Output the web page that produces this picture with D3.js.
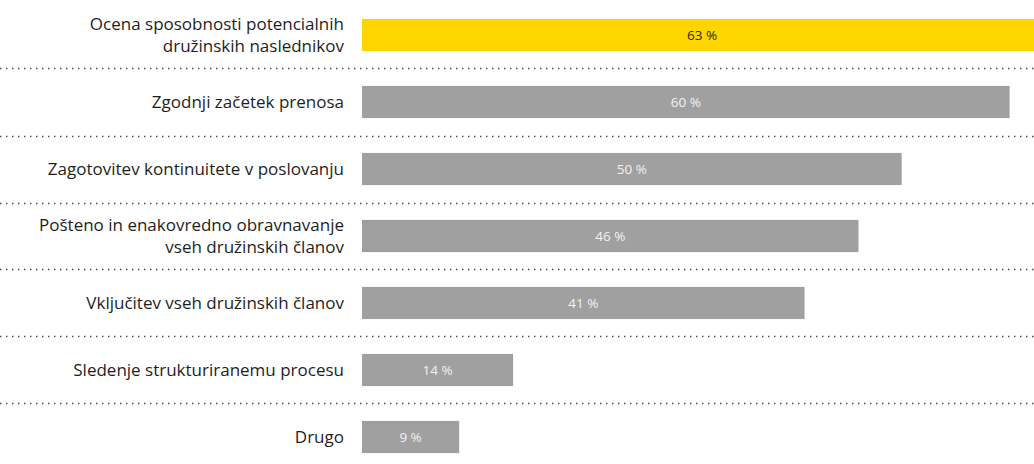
<!DOCTYPE html>
<html>
<head>
<meta charset="utf-8">
<script src="https://cdn.jsdelivr.net/npm/d3@7/dist/d3.min.js"></script>
<style>
  html, body { margin: 0; padding: 0; background: #fff; overflow: hidden; }
  svg { display: block; }
</style>
</head>
<body>
<svg id="chart" width="1034" height="464"></svg>
<script>
// Categories (label lines) and shares in percent
const categories = [
  ["Ocena sposobnosti potencialnih", "družinskih naslednikov"],
  ["Zgodnji začetek prenosa"],
  ["Zagotovitev kontinuitete v poslovanju"],
  ["Pošteno in enakovredno obravnavanje", "vseh družinskih članov"],
  ["Vključitev vseh družinskih članov"],
  ["Sledenje strukturiranemu procesu"],
  ["Drugo"]
];
const values = [63, 60, 50, 46, 41, 14, 9];
const highlight = [true, false, false, false, false, false, false];

const W = 1034, H = 464;
const svg = d3.select("#chart");
const font = "'Open Sans', 'DejaVu Sans', sans-serif";

const rows = d3.range(categories.length);
const y = d3.scaleBand()
  .domain(rows)
  .range([1.5, 470.5])
  .paddingInner(0.52)
  .paddingOuter(0.26);

const x = d3.scaleLinear().domain([0, 63]).range([362, 1042]);

// Dotted separators between rows
const sepYs = rows.slice(1).map(i => y(i) - y.step() * y.paddingInner() / 2);
svg.append("g").selectAll("line")
  .data(sepYs)
  .join("line")
  .attr("x1", 0).attr("x2", W)
  .attr("y1", d => Math.round(d) + 0.5).attr("y2", d => Math.round(d) + 0.5)
  .attr("stroke", "#444")
  .attr("stroke-width", 1.4)
  .attr("stroke-dasharray", "1.4 4.6");

// Bars
svg.append("g").selectAll("rect")
  .data(rows)
  .join("rect")
  .attr("x", x(0))
  .attr("y", i => y(i))
  .attr("width", i => x(values[i]) - x(0))
  .attr("height", y.bandwidth())
  .attr("fill", i => highlight[i] ? "#FFD500" : "#A0A0A0");

// Value labels inside bars
svg.append("g").selectAll("text")
  .data(rows)
  .join("text")
  .attr("x", i => (x(0) + x(values[i])) / 2)
  .attr("y", i => y(i) + y.bandwidth() / 2)
  .attr("dy", "0.38em")
  .attr("text-anchor", "middle")
  .attr("font-family", font)
  .attr("font-size", 13.5)
  .attr("fill", i => highlight[i] ? "#2a2a2a" : "#f2f2f2")
  .text(i => values[i] + " %");

// Category labels, right aligned
const fs = 17, lineH = 22;
const lab = svg.append("g").selectAll("text")
  .data(rows)
  .join("text")
  .attr("text-anchor", "end")
  .attr("font-family", font)
  .attr("font-size", fs)
  .attr("fill", "#1e1e1e")
  .attr("y", i => y(i) + y.bandwidth() / 2);
lab.each(function(i) {
  const lines = categories[i];
  const t = d3.select(this);
  lines.forEach((s, k) => {
    t.append("tspan")
      .attr("x", 344)
      .attr("dy", k === 0 ? (0.38 * fs - (lines.length - 1) * lineH / 2) + "px" : lineH + "px")
      .text(s);
  });
});
</script>
</body>
</html>
